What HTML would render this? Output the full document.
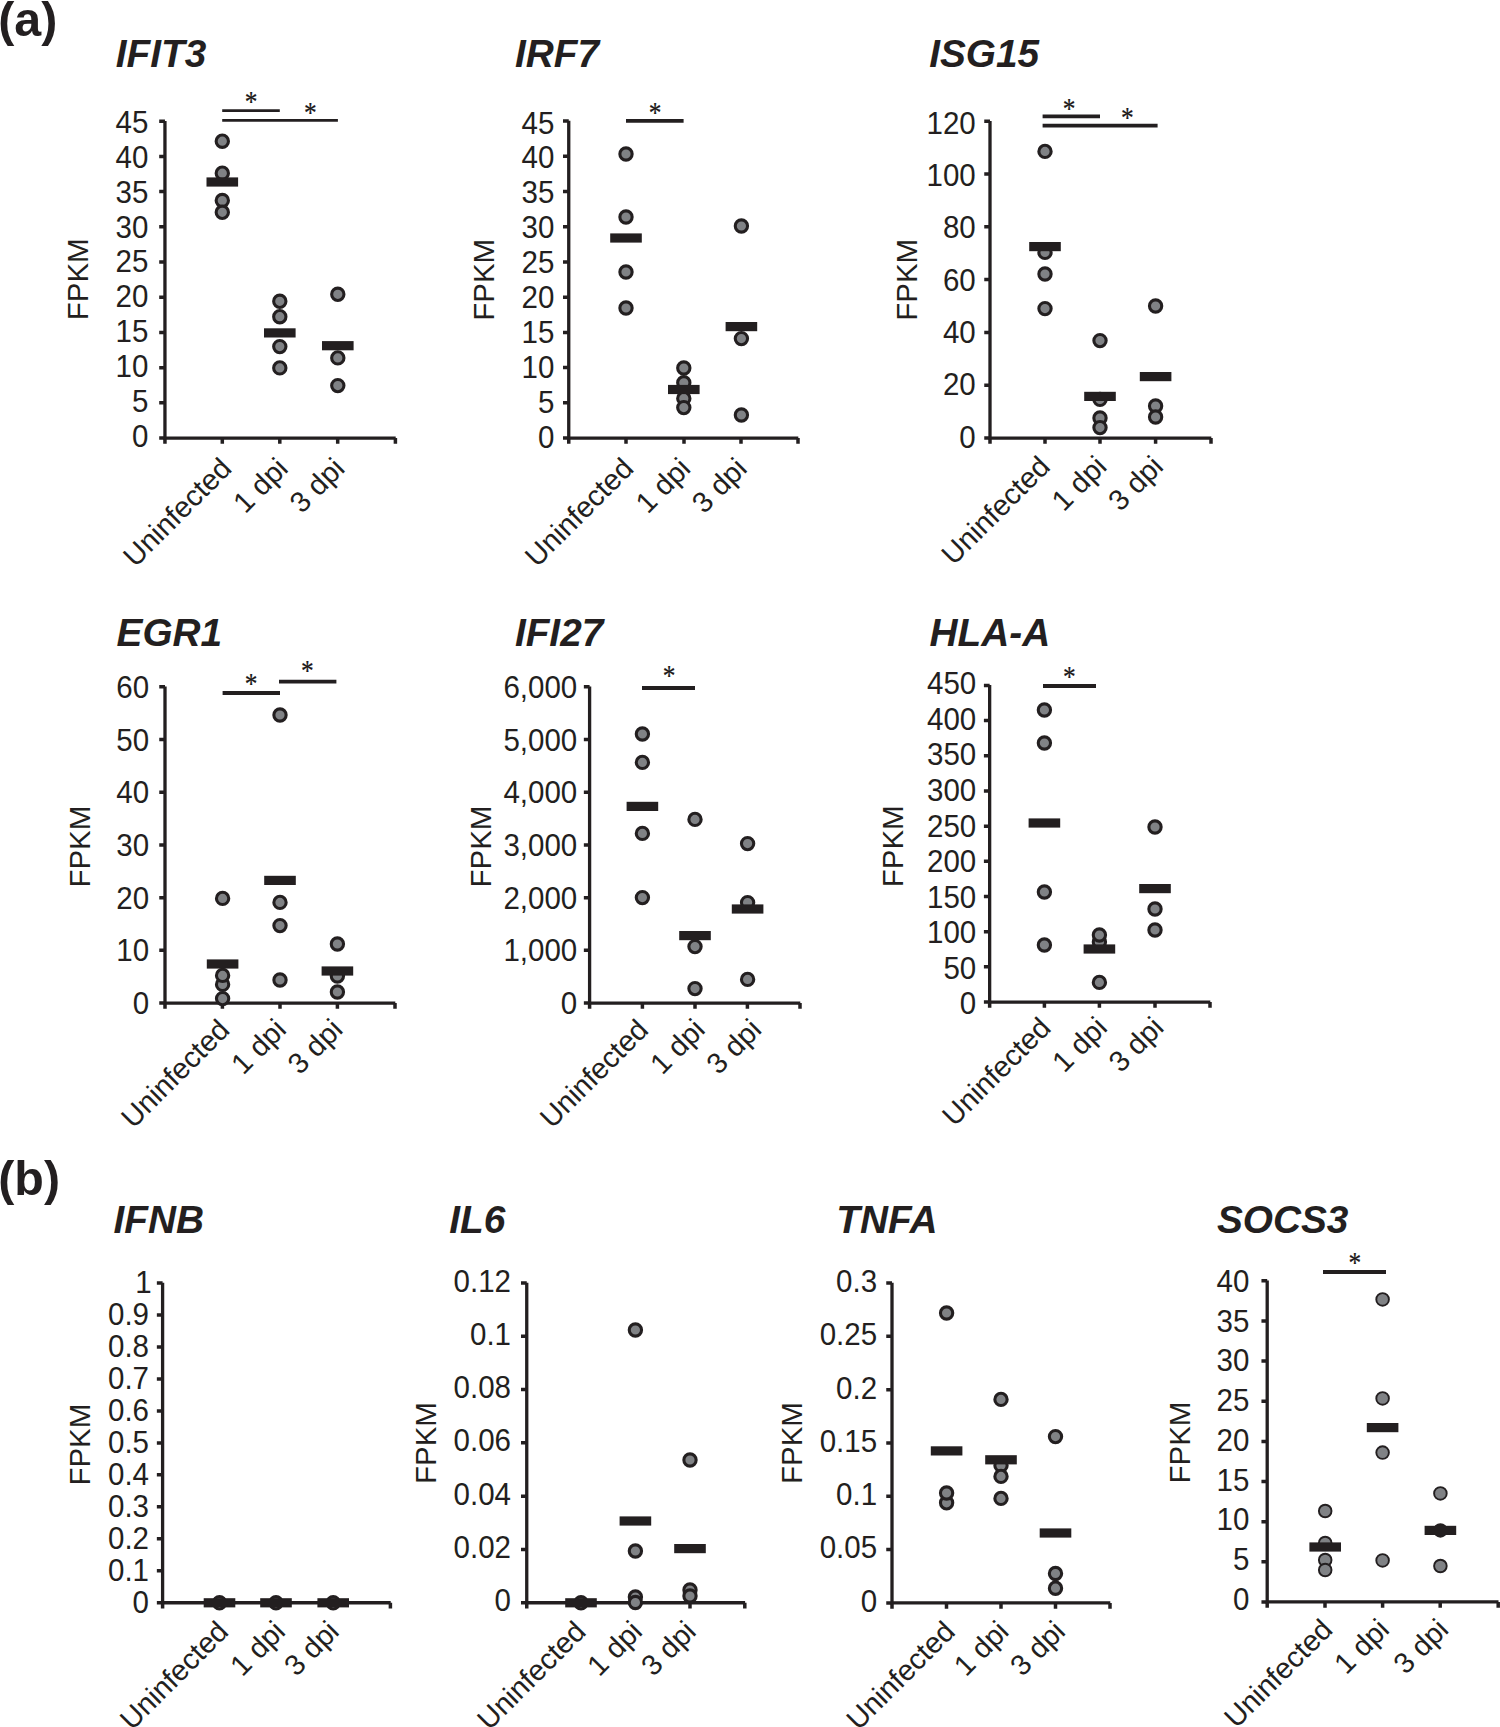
<!DOCTYPE html>
<html lang="en">
<head>
<meta charset="utf-8">
<title>FPKM expression of interferon-stimulated and cytokine genes</title>
<style>
html,body{margin:0;padding:0;background:#ffffff;}
body{width:1500px;height:1727px;overflow:hidden;}
svg{display:block;}
</style>
</head>
<body>
<svg width="1500" height="1727" viewBox="0 0 1500 1727">
<rect x="0" y="0" width="1500" height="1727" fill="#ffffff"/>
<g fill="#231f20" font-family="'Liberation Sans', sans-serif" font-weight="bold" font-size="48.4">
<text x="-1.8" y="35.9">(a)</text>
<text x="-1.8" y="1194.6">(b)</text>
</g>
<g>
<text x="115.8" y="66.5" fill="#231f20" font-family="'Liberation Sans', sans-serif" font-weight="bold" font-style="italic" font-size="38.8">IFIT3</text>
<text transform="translate(88.1 279.3) rotate(-90) scale(0.969 1)" text-anchor="middle" fill="#231f20" font-family="'Liberation Sans', sans-serif" font-size="30.4">FPKM</text>
<path d="M164.95 120.9V438.05H395.7" fill="none" stroke="#231f20" stroke-width="3.3" stroke-linejoin="miter"/>
<g fill="#231f20" font-family="'Liberation Sans', sans-serif" font-size="31" text-anchor="end">
<text transform="translate(148.3 446.9) scale(0.952 1)">0</text>
<text transform="translate(148.3 412) scale(0.952 1)">5</text>
<text transform="translate(148.3 377.1) scale(0.952 1)">10</text>
<text transform="translate(148.3 342.2) scale(0.952 1)">15</text>
<text transform="translate(148.3 307.3) scale(0.952 1)">20</text>
<text transform="translate(148.3 272.4) scale(0.952 1)">25</text>
<text transform="translate(148.3 237.5) scale(0.952 1)">30</text>
<text transform="translate(148.3 202.6) scale(0.952 1)">35</text>
<text transform="translate(148.3 167.7) scale(0.952 1)">40</text>
<text transform="translate(148.3 132.8) scale(0.952 1)">45</text>
</g>
<path d="M159.2 438.05H164.95M159.2 402.84H164.95M159.2 367.64H164.95M159.2 332.43H164.95M159.2 297.23H164.95M159.2 262.02H164.95M159.2 226.82H164.95M159.2 191.61H164.95M159.2 156.41H164.95M159.2 121.2H164.95M164.95 438.05V443.8M222.3 438.05V443.8M279.8 438.05V443.8M337.7 438.05V443.8M395.4 438.05V443.8" fill="none" stroke="#231f20" stroke-width="3.5"/>
<g fill="#231f20" font-family="'Liberation Sans', sans-serif" font-size="29.0" text-anchor="end">
<text transform="translate(233.2 470.1) rotate(-45)">Uninfected</text>
<text transform="translate(289.6 470.1) rotate(-45)">1 dpi</text>
<text transform="translate(346.2 470.1) rotate(-45)">3 dpi</text>
</g>
<g fill="#808285" stroke="#231f20" stroke-width="3.1">
<circle cx="222.3" cy="141.2" r="6.15"/>
<circle cx="222.3" cy="173.2" r="6.15"/>
<circle cx="222.3" cy="200.5" r="6.15"/>
<circle cx="222.3" cy="212.3" r="6.15"/>
<circle cx="279.8" cy="301.3" r="6.15"/>
<circle cx="279.8" cy="316.7" r="6.15"/>
<circle cx="279.8" cy="346.6" r="6.15"/>
<circle cx="279.8" cy="367.9" r="6.15"/>
<circle cx="337.8" cy="294.3" r="6.15"/>
<circle cx="337.8" cy="357.9" r="6.15"/>
<circle cx="337.8" cy="385.6" r="6.15"/>
</g>
<g fill="#231f20">
<rect x="206.5" y="177.4" width="31.6" height="9.2"/>
<rect x="264" y="328.3" width="31.6" height="9.2"/>
<rect x="322" y="341.1" width="31.6" height="9.2"/>
</g>
<line x1="222.2" y1="110.6" x2="279.8" y2="110.6" stroke="#231f20" stroke-width="2.6"/>
<line x1="222.2" y1="120.4" x2="337.9" y2="120.4" stroke="#231f20" stroke-width="2.6"/>
<text transform="translate(251.2 96.4) scale(1 1.2)" y="12.4" text-anchor="middle" fill="#1a1617" stroke="#1a1617" stroke-width="0.2" font-family="'Liberation Serif', serif" font-size="25.4">*</text>
<text transform="translate(310.3 107.6) scale(1 1.2)" y="12.4" text-anchor="middle" fill="#1a1617" stroke="#1a1617" stroke-width="0.2" font-family="'Liberation Serif', serif" font-size="25.4">*</text>
</g>
<g>
<text x="514.9" y="67" fill="#231f20" font-family="'Liberation Sans', sans-serif" font-weight="bold" font-style="italic" font-size="38.8">IRF7</text>
<text transform="translate(494 279.8) rotate(-90) scale(0.969 1)" text-anchor="middle" fill="#231f20" font-family="'Liberation Sans', sans-serif" font-size="30.4">FPKM</text>
<path d="M568.75 120.77V438.05H798.3" fill="none" stroke="#231f20" stroke-width="3.3" stroke-linejoin="miter"/>
<g fill="#231f20" font-family="'Liberation Sans', sans-serif" font-size="31" text-anchor="end">
<text transform="translate(554.3 447.6) scale(0.952 1)">0</text>
<text transform="translate(554.3 412.71) scale(0.952 1)">5</text>
<text transform="translate(554.3 377.82) scale(0.952 1)">10</text>
<text transform="translate(554.3 342.93) scale(0.952 1)">15</text>
<text transform="translate(554.3 308.04) scale(0.952 1)">20</text>
<text transform="translate(554.3 273.16) scale(0.952 1)">25</text>
<text transform="translate(554.3 238.27) scale(0.952 1)">30</text>
<text transform="translate(554.3 203.38) scale(0.952 1)">35</text>
<text transform="translate(554.3 168.49) scale(0.952 1)">40</text>
<text transform="translate(554.3 133.6) scale(0.952 1)">45</text>
</g>
<path d="M563 438.05H568.75M563 402.83H568.75M563 367.61H568.75M563 332.39H568.75M563 297.17H568.75M563 261.95H568.75M563 226.73H568.75M563 191.51H568.75M563 156.29H568.75M563 121.07H568.75M568.75 438.05V443.8M626 438.05V443.8M684 438.05V443.8M741 438.05V443.8M798 438.05V443.8" fill="none" stroke="#231f20" stroke-width="3.5"/>
<g fill="#231f20" font-family="'Liberation Sans', sans-serif" font-size="29.0" text-anchor="end">
<text transform="translate(635.1 470.1) rotate(-45)">Uninfected</text>
<text transform="translate(692.1 470.2) rotate(-45)">1 dpi</text>
<text transform="translate(748.5 470.2) rotate(-45)">3 dpi</text>
</g>
<g fill="#808285" stroke="#231f20" stroke-width="3.1">
<circle cx="626" cy="154" r="6.15"/>
<circle cx="626" cy="217" r="6.15"/>
<circle cx="626" cy="272" r="6.15"/>
<circle cx="626" cy="308" r="6.15"/>
<circle cx="683.8" cy="382.8" r="6.15"/>
<circle cx="683.8" cy="398.4" r="6.15"/>
<circle cx="683.8" cy="368" r="6.15"/>
<circle cx="683.8" cy="407.6" r="6.15"/>
<circle cx="741.4" cy="226" r="6.15"/>
<circle cx="741.4" cy="338.6" r="6.15"/>
<circle cx="741.4" cy="415" r="6.15"/>
</g>
<g fill="#231f20">
<rect x="610.2" y="233.4" width="31.6" height="9.2"/>
<rect x="668" y="384.9" width="31.6" height="9.2"/>
<rect x="725.6" y="322" width="31.6" height="9.2"/>
</g>
<line x1="626" y1="120.8" x2="683.6" y2="120.8" stroke="#231f20" stroke-width="3.85"/>
<text transform="translate(655 107.3) scale(1 1.2)" y="12.4" text-anchor="middle" fill="#1a1617" stroke="#1a1617" stroke-width="0.2" font-family="'Liberation Serif', serif" font-size="25.4">*</text>
</g>
<g>
<text x="929.2" y="67" fill="#231f20" font-family="'Liberation Sans', sans-serif" font-weight="bold" font-style="italic" font-size="38.8">ISG15</text>
<text transform="translate(916.8 279.8) rotate(-90) scale(0.969 1)" text-anchor="middle" fill="#231f20" font-family="'Liberation Sans', sans-serif" font-size="30.4">FPKM</text>
<path d="M990 120.9V438.05H1211.3" fill="none" stroke="#231f20" stroke-width="3.3" stroke-linejoin="miter"/>
<g fill="#231f20" font-family="'Liberation Sans', sans-serif" font-size="31" text-anchor="end">
<text transform="translate(975.7 447.6) scale(0.952 1)">0</text>
<text transform="translate(975.7 395.28) scale(0.952 1)">20</text>
<text transform="translate(975.7 342.97) scale(0.952 1)">40</text>
<text transform="translate(975.7 290.65) scale(0.952 1)">60</text>
<text transform="translate(975.7 238.33) scale(0.952 1)">80</text>
<text transform="translate(975.7 186.02) scale(0.952 1)">100</text>
<text transform="translate(975.7 133.7) scale(0.952 1)">120</text>
</g>
<path d="M984.25 438.05H990M984.25 385.24H990M984.25 332.43H990M984.25 279.62H990M984.25 226.82H990M984.25 174.01H990M984.25 121.2H990M990 438.05V443.8M1045 438.05V443.8M1100 438.05V443.8M1155.6 438.05V443.8M1211 438.05V443.8" fill="none" stroke="#231f20" stroke-width="3.5"/>
<g fill="#231f20" font-family="'Liberation Sans', sans-serif" font-size="29.0" text-anchor="end">
<text transform="translate(1051.6 468.3) rotate(-45)">Uninfected</text>
<text transform="translate(1108.2 468.1) rotate(-45)">1 dpi</text>
<text transform="translate(1164.8 468.1) rotate(-45)">3 dpi</text>
</g>
<g fill="#808285" stroke="#231f20" stroke-width="3.1">
<circle cx="1045" cy="151.4" r="6.15"/>
<circle cx="1045" cy="252.4" r="6.15"/>
<circle cx="1045" cy="274" r="6.15"/>
<circle cx="1045" cy="308.6" r="6.15"/>
<circle cx="1100" cy="340.6" r="6.15"/>
<circle cx="1100" cy="399.4" r="6.15"/>
<circle cx="1100" cy="418" r="6.15"/>
<circle cx="1100" cy="427.6" r="6.15"/>
<circle cx="1155.6" cy="306" r="6.15"/>
<circle cx="1155.6" cy="406" r="6.15"/>
<circle cx="1155.6" cy="417" r="6.15"/>
</g>
<g fill="#231f20">
<rect x="1029.2" y="242" width="31.6" height="9.2"/>
<rect x="1084.2" y="391.8" width="31.6" height="9.2"/>
<rect x="1139.8" y="372" width="31.6" height="9.2"/>
</g>
<line x1="1042.6" y1="116.4" x2="1100" y2="116.4" stroke="#231f20" stroke-width="3.85"/>
<line x1="1042.6" y1="125.6" x2="1157.6" y2="125.6" stroke="#231f20" stroke-width="3.85"/>
<text transform="translate(1069 103.1) scale(1 1.2)" y="12.4" text-anchor="middle" fill="#1a1617" stroke="#1a1617" stroke-width="0.2" font-family="'Liberation Serif', serif" font-size="25.4">*</text>
<text transform="translate(1127.4 112.3) scale(1 1.2)" y="12.4" text-anchor="middle" fill="#1a1617" stroke="#1a1617" stroke-width="0.2" font-family="'Liberation Serif', serif" font-size="25.4">*</text>
</g>
<g>
<text x="116.5" y="646.4" fill="#231f20" font-family="'Liberation Sans', sans-serif" font-weight="bold" font-style="italic" font-size="38.8">EGR1</text>
<text transform="translate(90 846.7) rotate(-90) scale(0.969 1)" text-anchor="middle" fill="#231f20" font-family="'Liberation Sans', sans-serif" font-size="30.4">FPKM</text>
<path d="M165 686.5V1003.05H395.3" fill="none" stroke="#231f20" stroke-width="3.3" stroke-linejoin="miter"/>
<g fill="#231f20" font-family="'Liberation Sans', sans-serif" font-size="31" text-anchor="end">
<text transform="translate(149.1 1014.2) scale(0.952 1)">0</text>
<text transform="translate(149.1 961.48) scale(0.952 1)">10</text>
<text transform="translate(149.1 908.77) scale(0.952 1)">20</text>
<text transform="translate(149.1 856.05) scale(0.952 1)">30</text>
<text transform="translate(149.1 803.33) scale(0.952 1)">40</text>
<text transform="translate(149.1 750.62) scale(0.952 1)">50</text>
<text transform="translate(149.1 697.9) scale(0.952 1)">60</text>
</g>
<path d="M159.25 1003.05H165M159.25 950.34H165M159.25 897.63H165M159.25 844.92H165M159.25 792.22H165M159.25 739.51H165M159.25 686.8H165M165 1003.05V1008.8M222.4 1003.05V1008.8M280 1003.05V1008.8M337.4 1003.05V1008.8M395 1003.05V1008.8" fill="none" stroke="#231f20" stroke-width="3.5"/>
<g fill="#231f20" font-family="'Liberation Sans', sans-serif" font-size="29.0" text-anchor="end">
<text transform="translate(231.2 1031.5) rotate(-45)">Uninfected</text>
<text transform="translate(287.8 1031.3) rotate(-45)">1 dpi</text>
<text transform="translate(344.2 1031.3) rotate(-45)">3 dpi</text>
</g>
<g fill="#808285" stroke="#231f20" stroke-width="3.1">
<circle cx="222.6" cy="898.4" r="6.15"/>
<circle cx="222.6" cy="998.6" r="6.15"/>
<circle cx="222.6" cy="984.4" r="6.15"/>
<circle cx="222.6" cy="975.4" r="6.15"/>
<circle cx="280" cy="715" r="6.15"/>
<circle cx="280" cy="902.4" r="6.15"/>
<circle cx="280" cy="925.6" r="6.15"/>
<circle cx="280" cy="980" r="6.15"/>
<circle cx="337.4" cy="944" r="6.15"/>
<circle cx="337.4" cy="976" r="6.15"/>
<circle cx="337.4" cy="992" r="6.15"/>
</g>
<g fill="#231f20">
<rect x="206.8" y="959.4" width="31.6" height="9.2"/>
<rect x="264.2" y="875.8" width="31.6" height="9.2"/>
<rect x="321.6" y="966.4" width="31.6" height="9.2"/>
</g>
<line x1="222.6" y1="693" x2="280" y2="693" stroke="#231f20" stroke-width="3.85"/>
<line x1="279" y1="681.6" x2="336.4" y2="681.6" stroke="#231f20" stroke-width="3.85"/>
<text transform="translate(251 678.1) scale(1 1.2)" y="12.4" text-anchor="middle" fill="#1a1617" stroke="#1a1617" stroke-width="0.2" font-family="'Liberation Serif', serif" font-size="25.4">*</text>
<text transform="translate(307.4 664.7) scale(1 1.2)" y="12.4" text-anchor="middle" fill="#1a1617" stroke="#1a1617" stroke-width="0.2" font-family="'Liberation Serif', serif" font-size="25.4">*</text>
</g>
<g>
<text x="514.9" y="646.4" fill="#231f20" font-family="'Liberation Sans', sans-serif" font-weight="bold" font-style="italic" font-size="38.8">IFI27</text>
<text transform="translate(490.7 846.5) rotate(-90) scale(0.969 1)" text-anchor="middle" fill="#231f20" font-family="'Liberation Sans', sans-serif" font-size="30.4">FPKM</text>
<path d="M589.6 686.5V1003.05H800.3" fill="none" stroke="#231f20" stroke-width="3.3" stroke-linejoin="miter"/>
<g fill="#231f20" font-family="'Liberation Sans', sans-serif" font-size="31" text-anchor="end">
<text transform="translate(577.25 1014.2) scale(0.952 1)">0</text>
<text transform="translate(577.25 961.48) scale(0.952 1)">1,000</text>
<text transform="translate(577.25 908.77) scale(0.952 1)">2,000</text>
<text transform="translate(577.25 856.05) scale(0.952 1)">3,000</text>
<text transform="translate(577.25 803.33) scale(0.952 1)">4,000</text>
<text transform="translate(577.25 750.62) scale(0.952 1)">5,000</text>
<text transform="translate(577.25 697.9) scale(0.952 1)">6,000</text>
</g>
<path d="M583.85 1003.05H589.6M583.85 950.34H589.6M583.85 897.63H589.6M583.85 844.92H589.6M583.85 792.22H589.6M583.85 739.51H589.6M583.85 686.8H589.6M589.6 1003.05V1008.8M642.4 1003.05V1008.8M695 1003.05V1008.8M747.4 1003.05V1008.8M800 1003.05V1008.8" fill="none" stroke="#231f20" stroke-width="3.5"/>
<g fill="#231f20" font-family="'Liberation Sans', sans-serif" font-size="29.0" text-anchor="end">
<text transform="translate(650 1031.5) rotate(-45)">Uninfected</text>
<text transform="translate(706.6 1031.3) rotate(-45)">1 dpi</text>
<text transform="translate(763 1031.3) rotate(-45)">3 dpi</text>
</g>
<g fill="#808285" stroke="#231f20" stroke-width="3.1">
<circle cx="642.4" cy="734" r="6.15"/>
<circle cx="642.4" cy="762.4" r="6.15"/>
<circle cx="642.4" cy="833.4" r="6.15"/>
<circle cx="642.4" cy="897.6" r="6.15"/>
<circle cx="695" cy="819.4" r="6.15"/>
<circle cx="695" cy="946.6" r="6.15"/>
<circle cx="695" cy="988.6" r="6.15"/>
<circle cx="747.6" cy="843.6" r="6.15"/>
<circle cx="747.6" cy="902.6" r="6.15"/>
<circle cx="747.6" cy="979.4" r="6.15"/>
</g>
<g fill="#231f20">
<rect x="626.6" y="801.8" width="31.6" height="9.2"/>
<rect x="679.2" y="931" width="31.6" height="9.2"/>
<rect x="731.8" y="904.4" width="31.6" height="9.2"/>
</g>
<line x1="642" y1="688" x2="695" y2="688" stroke="#231f20" stroke-width="3.85"/>
<text transform="translate(669 670.3) scale(1 1.2)" y="12.4" text-anchor="middle" fill="#1a1617" stroke="#1a1617" stroke-width="0.2" font-family="'Liberation Serif', serif" font-size="25.4">*</text>
</g>
<g>
<text x="929.5" y="646.4" fill="#231f20" font-family="'Liberation Sans', sans-serif" font-weight="bold" font-style="italic" font-size="38.8">HLA-A</text>
<text transform="translate(903.3 846.3) rotate(-90) scale(0.969 1)" text-anchor="middle" fill="#231f20" font-family="'Liberation Sans', sans-serif" font-size="30.4">FPKM</text>
<path d="M989.65 685.1V1002.05H1210.3" fill="none" stroke="#231f20" stroke-width="3.3" stroke-linejoin="miter"/>
<g fill="#231f20" font-family="'Liberation Sans', sans-serif" font-size="31" text-anchor="end">
<text transform="translate(976.2 1014.3) scale(0.952 1)">0</text>
<text transform="translate(976.2 978.74) scale(0.952 1)">50</text>
<text transform="translate(976.2 943.19) scale(0.952 1)">100</text>
<text transform="translate(976.2 907.63) scale(0.952 1)">150</text>
<text transform="translate(976.2 872.08) scale(0.952 1)">200</text>
<text transform="translate(976.2 836.52) scale(0.952 1)">250</text>
<text transform="translate(976.2 800.97) scale(0.952 1)">300</text>
<text transform="translate(976.2 765.41) scale(0.952 1)">350</text>
<text transform="translate(976.2 729.86) scale(0.952 1)">400</text>
<text transform="translate(976.2 694.3) scale(0.952 1)">450</text>
</g>
<path d="M983.9 1002.05H989.65M983.9 966.87H989.65M983.9 931.68H989.65M983.9 896.5H989.65M983.9 861.32H989.65M983.9 826.13H989.65M983.9 790.95H989.65M983.9 755.77H989.65M983.9 720.58H989.65M983.9 685.4H989.65M989.65 1002.05V1007.8M1044.4 1002.05V1007.8M1099.4 1002.05V1007.8M1155 1002.05V1007.8M1210 1002.05V1007.8" fill="none" stroke="#231f20" stroke-width="3.5"/>
<g fill="#231f20" font-family="'Liberation Sans', sans-serif" font-size="29.0" text-anchor="end">
<text transform="translate(1052.4 1029.5) rotate(-45)">Uninfected</text>
<text transform="translate(1108.8 1029.3) rotate(-45)">1 dpi</text>
<text transform="translate(1165.2 1029.3) rotate(-45)">3 dpi</text>
</g>
<g fill="#808285" stroke="#231f20" stroke-width="3.1">
<circle cx="1044.4" cy="710" r="6.15"/>
<circle cx="1044.4" cy="743" r="6.15"/>
<circle cx="1044.4" cy="892" r="6.15"/>
<circle cx="1044.4" cy="945" r="6.15"/>
<circle cx="1099.4" cy="942" r="6.15"/>
<circle cx="1099.4" cy="935" r="6.15"/>
<circle cx="1099.4" cy="982.4" r="6.15"/>
<circle cx="1155" cy="827" r="6.15"/>
<circle cx="1155" cy="909" r="6.15"/>
<circle cx="1155" cy="930" r="6.15"/>
</g>
<g fill="#231f20">
<rect x="1028.6" y="818.4" width="31.6" height="9.2"/>
<rect x="1083.6" y="944.4" width="31.6" height="9.2"/>
<rect x="1139.2" y="884" width="31.6" height="9.2"/>
</g>
<line x1="1043" y1="686" x2="1096" y2="686" stroke="#231f20" stroke-width="3.85"/>
<text transform="translate(1069.4 670.7) scale(1 1.2)" y="12.4" text-anchor="middle" fill="#1a1617" stroke="#1a1617" stroke-width="0.2" font-family="'Liberation Serif', serif" font-size="25.4">*</text>
</g>
<g>
<text x="113.5" y="1233" fill="#231f20" font-family="'Liberation Sans', sans-serif" font-weight="bold" font-style="italic" font-size="38.8">IFNB</text>
<text transform="translate(90 1444.7) rotate(-90) scale(0.969 1)" text-anchor="middle" fill="#231f20" font-family="'Liberation Sans', sans-serif" font-size="30.4">FPKM</text>
<path d="M162.6 1282.77V1602.73H390.7" fill="none" stroke="#231f20" stroke-width="3.3" stroke-linejoin="miter"/>
<g fill="#231f20" font-family="'Liberation Sans', sans-serif" font-size="31" text-anchor="end">
<text transform="translate(149 1612.5) scale(0.952 1)">0</text>
<text transform="translate(149 1580.53) scale(0.952 1)">0.1</text>
<text transform="translate(149 1548.56) scale(0.952 1)">0.2</text>
<text transform="translate(149 1516.59) scale(0.952 1)">0.3</text>
<text transform="translate(149 1484.62) scale(0.952 1)">0.4</text>
<text transform="translate(149 1452.65) scale(0.952 1)">0.5</text>
<text transform="translate(149 1420.68) scale(0.952 1)">0.6</text>
<text transform="translate(149 1388.71) scale(0.952 1)">0.7</text>
<text transform="translate(149 1356.74) scale(0.952 1)">0.8</text>
<text transform="translate(149 1324.77) scale(0.952 1)">0.9</text>
<text transform="translate(151.6 1292.8) scale(0.952 1)">1</text>
</g>
<path d="M156.85 1602.73H162.6M156.85 1570.76H162.6M156.85 1538.8H162.6M156.85 1506.83H162.6M156.85 1474.87H162.6M156.85 1442.9H162.6M156.85 1410.93H162.6M156.85 1378.97H162.6M156.85 1347H162.6M156.85 1315.04H162.6M156.85 1283.07H162.6M162.6 1602.73V1608.48M219.5 1602.73V1608.48M276 1602.73V1608.48M333.2 1602.73V1608.48M390.4 1602.73V1608.48" fill="none" stroke="#231f20" stroke-width="3.5"/>
<g fill="#231f20" font-family="'Liberation Sans', sans-serif" font-size="29.0" text-anchor="end">
<text transform="translate(230 1633.3) rotate(-45)">Uninfected</text>
<text transform="translate(286.8 1633.1) rotate(-45)">1 dpi</text>
<text transform="translate(340.6 1633.1) rotate(-45)">3 dpi</text>
</g>
<g fill="#808285" stroke="#231f20" stroke-width="3.1">
<circle cx="219.5" cy="1602.8" r="6.15"/>
<circle cx="276" cy="1602.8" r="6.15"/>
<circle cx="333.2" cy="1602.8" r="6.15"/>
</g>
<g fill="#231f20">
<rect x="203.7" y="1598.2" width="31.6" height="9.2"/>
<rect x="260.2" y="1598.2" width="31.6" height="9.2"/>
<rect x="317.4" y="1598.2" width="31.6" height="9.2"/>
</g>
</g>
<g>
<text x="449.3" y="1233" fill="#231f20" font-family="'Liberation Sans', sans-serif" font-weight="bold" font-style="italic" font-size="38.8">IL6</text>
<text transform="translate(435.7 1443) rotate(-90) scale(0.969 1)" text-anchor="middle" fill="#231f20" font-family="'Liberation Sans', sans-serif" font-size="30.4">FPKM</text>
<path d="M526.75 1282.66V1602.73H745.1" fill="none" stroke="#231f20" stroke-width="3.3" stroke-linejoin="miter"/>
<g fill="#231f20" font-family="'Liberation Sans', sans-serif" font-size="31" text-anchor="end">
<text transform="translate(511 1611) scale(0.952 1)">0</text>
<text transform="translate(511 1557.82) scale(0.952 1)">0.02</text>
<text transform="translate(511 1504.63) scale(0.952 1)">0.04</text>
<text transform="translate(511 1451.45) scale(0.952 1)">0.06</text>
<text transform="translate(511 1398.27) scale(0.952 1)">0.08</text>
<text transform="translate(511 1345.08) scale(0.952 1)">0.1</text>
<text transform="translate(511 1291.9) scale(0.952 1)">0.12</text>
</g>
<path d="M521 1602.73H526.75M521 1549.43H526.75M521 1496.14H526.75M521 1442.85H526.75M521 1389.55H526.75M521 1336.26H526.75M521 1282.96H526.75M526.75 1602.73V1608.48M580.8 1602.73V1608.48M635.4 1602.73V1608.48M690 1602.73V1608.48M744.8 1602.73V1608.48" fill="none" stroke="#231f20" stroke-width="3.5"/>
<g fill="#231f20" font-family="'Liberation Sans', sans-serif" font-size="29.0" text-anchor="end">
<text transform="translate(587.4 1633.3) rotate(-45)">Uninfected</text>
<text transform="translate(643.8 1633.1) rotate(-45)">1 dpi</text>
<text transform="translate(697.6 1633.1) rotate(-45)">3 dpi</text>
</g>
<g fill="#808285" stroke="#231f20" stroke-width="3.1">
<circle cx="581" cy="1602.8" r="6.15"/>
<circle cx="635.4" cy="1330" r="6.15"/>
<circle cx="635.4" cy="1551" r="6.15"/>
<circle cx="635.4" cy="1597" r="6.15"/>
<circle cx="635.4" cy="1602.5" r="6.15"/>
<circle cx="690" cy="1460" r="6.15"/>
<circle cx="690" cy="1590" r="6.15"/>
<circle cx="690" cy="1596" r="6.15"/>
</g>
<g fill="#231f20">
<rect x="565.2" y="1598.2" width="31.6" height="9.2"/>
<rect x="619.6" y="1516.4" width="31.6" height="9.2"/>
<rect x="674.2" y="1544" width="31.6" height="9.2"/>
</g>
</g>
<g>
<text x="836.2" y="1233" fill="#231f20" font-family="'Liberation Sans', sans-serif" font-weight="bold" font-style="italic" font-size="38.8">TNFA</text>
<text transform="translate(801.7 1443) rotate(-90) scale(0.969 1)" text-anchor="middle" fill="#231f20" font-family="'Liberation Sans', sans-serif" font-size="30.4">FPKM</text>
<path d="M892 1282.7V1602.9H1110.3" fill="none" stroke="#231f20" stroke-width="3.3" stroke-linejoin="miter"/>
<g fill="#231f20" font-family="'Liberation Sans', sans-serif" font-size="31" text-anchor="end">
<text transform="translate(877.1 1611.5) scale(0.952 1)">0</text>
<text transform="translate(877.1 1558.28) scale(0.952 1)">0.05</text>
<text transform="translate(877.1 1505.07) scale(0.952 1)">0.1</text>
<text transform="translate(877.1 1451.85) scale(0.952 1)">0.15</text>
<text transform="translate(877.1 1398.63) scale(0.952 1)">0.2</text>
<text transform="translate(877.1 1345.42) scale(0.952 1)">0.25</text>
<text transform="translate(877.1 1292.2) scale(0.952 1)">0.3</text>
</g>
<path d="M886.25 1602.9H892M886.25 1549.58H892M886.25 1496.27H892M886.25 1442.95H892M886.25 1389.63H892M886.25 1336.32H892M886.25 1283H892M892 1602.9V1608.65M946.5 1602.9V1608.65M1001 1602.9V1608.65M1055.5 1602.9V1608.65M1110 1602.9V1608.65" fill="none" stroke="#231f20" stroke-width="3.5"/>
<g fill="#231f20" font-family="'Liberation Sans', sans-serif" font-size="29.0" text-anchor="end">
<text transform="translate(956.6 1633.3) rotate(-45)">Uninfected</text>
<text transform="translate(1010.4 1633.1) rotate(-45)">1 dpi</text>
<text transform="translate(1066.8 1633.1) rotate(-45)">3 dpi</text>
</g>
<g fill="#808285" stroke="#231f20" stroke-width="3.1">
<circle cx="946.6" cy="1313" r="6.15"/>
<circle cx="946.6" cy="1502.8" r="6.15"/>
<circle cx="946.6" cy="1493" r="6.15"/>
<circle cx="1001" cy="1399.4" r="6.15"/>
<circle cx="1001" cy="1465.4" r="6.15"/>
<circle cx="1001" cy="1476.4" r="6.15"/>
<circle cx="1001" cy="1498.4" r="6.15"/>
<circle cx="1055.5" cy="1436.6" r="6.15"/>
<circle cx="1055.5" cy="1573.5" r="6.15"/>
<circle cx="1055.5" cy="1588.2" r="6.15"/>
</g>
<g fill="#231f20">
<rect x="930.8" y="1446.3" width="31.6" height="9.2"/>
<rect x="985.2" y="1455.2" width="31.6" height="9.2"/>
<rect x="1039.7" y="1528.4" width="31.6" height="9.2"/>
</g>
</g>
<g>
<text x="1216.9" y="1233" fill="#231f20" font-family="'Liberation Sans', sans-serif" font-weight="bold" font-style="italic" font-size="38.8">SOCS3</text>
<text transform="translate(1190 1442.5) rotate(-90) scale(0.969 1)" text-anchor="middle" fill="#231f20" font-family="'Liberation Sans', sans-serif" font-size="30.4">FPKM</text>
<path d="M1267.2 1280.5V1601.95H1498.5" fill="none" stroke="#231f20" stroke-width="3.3" stroke-linejoin="miter"/>
<g fill="#231f20" font-family="'Liberation Sans', sans-serif" font-size="31" text-anchor="end">
<text transform="translate(1249.4 1609.7) scale(0.952 1)">0</text>
<text transform="translate(1249.4 1569.98) scale(0.952 1)">5</text>
<text transform="translate(1249.4 1530.25) scale(0.952 1)">10</text>
<text transform="translate(1249.4 1490.53) scale(0.952 1)">15</text>
<text transform="translate(1249.4 1450.8) scale(0.952 1)">20</text>
<text transform="translate(1249.4 1411.08) scale(0.952 1)">25</text>
<text transform="translate(1249.4 1371.35) scale(0.952 1)">30</text>
<text transform="translate(1249.4 1331.62) scale(0.952 1)">35</text>
<text transform="translate(1249.4 1291.9) scale(0.952 1)">40</text>
</g>
<path d="M1261.45 1601.95H1267.2M1261.45 1561.81H1267.2M1261.45 1521.66H1267.2M1261.45 1481.52H1267.2M1261.45 1441.38H1267.2M1261.45 1401.23H1267.2M1261.45 1361.09H1267.2M1261.45 1320.94H1267.2M1261.45 1280.8H1267.2M1267.2 1601.95V1607.7M1325 1601.95V1607.7M1382.6 1601.95V1607.7M1440.2 1601.95V1607.7M1498.2 1601.95V1607.7" fill="none" stroke="#231f20" stroke-width="3.5"/>
<g fill="#231f20" font-family="'Liberation Sans', sans-serif" font-size="29.0" text-anchor="end">
<text transform="translate(1334.2 1631.3) rotate(-45)">Uninfected</text>
<text transform="translate(1390.8 1631.1) rotate(-45)">1 dpi</text>
<text transform="translate(1450 1631.1) rotate(-45)">3 dpi</text>
</g>
<g fill="#808285" stroke="#231f20" stroke-width="1.9">
<circle cx="1325.2" cy="1511" r="6.3"/>
<circle cx="1325.2" cy="1543" r="6.3"/>
<circle cx="1325.2" cy="1560" r="6.3"/>
<circle cx="1325.2" cy="1570" r="6.3"/>
<circle cx="1382.6" cy="1299.4" r="6.3"/>
<circle cx="1382.6" cy="1398.4" r="6.3"/>
<circle cx="1382.6" cy="1452.6" r="6.3"/>
<circle cx="1382.6" cy="1560.4" r="6.3"/>
<circle cx="1440.4" cy="1493.4" r="6.3"/>
<circle cx="1440.4" cy="1530.4" r="6.3" fill="#231f20"/>
<circle cx="1440.4" cy="1566" r="6.3"/>
</g>
<g fill="#231f20">
<rect x="1309.4" y="1542.4" width="31.6" height="9.2"/>
<rect x="1366.8" y="1423" width="31.6" height="9.2"/>
<rect x="1424.6" y="1525.8" width="31.6" height="9.2"/>
</g>
<line x1="1323" y1="1272" x2="1386" y2="1272" stroke="#231f20" stroke-width="3.85"/>
<text transform="translate(1354.8 1257.1) scale(1 1.2)" y="12.4" text-anchor="middle" fill="#1a1617" stroke="#1a1617" stroke-width="0.2" font-family="'Liberation Serif', serif" font-size="25.4">*</text>
</g>
</svg>
</body>
</html>
